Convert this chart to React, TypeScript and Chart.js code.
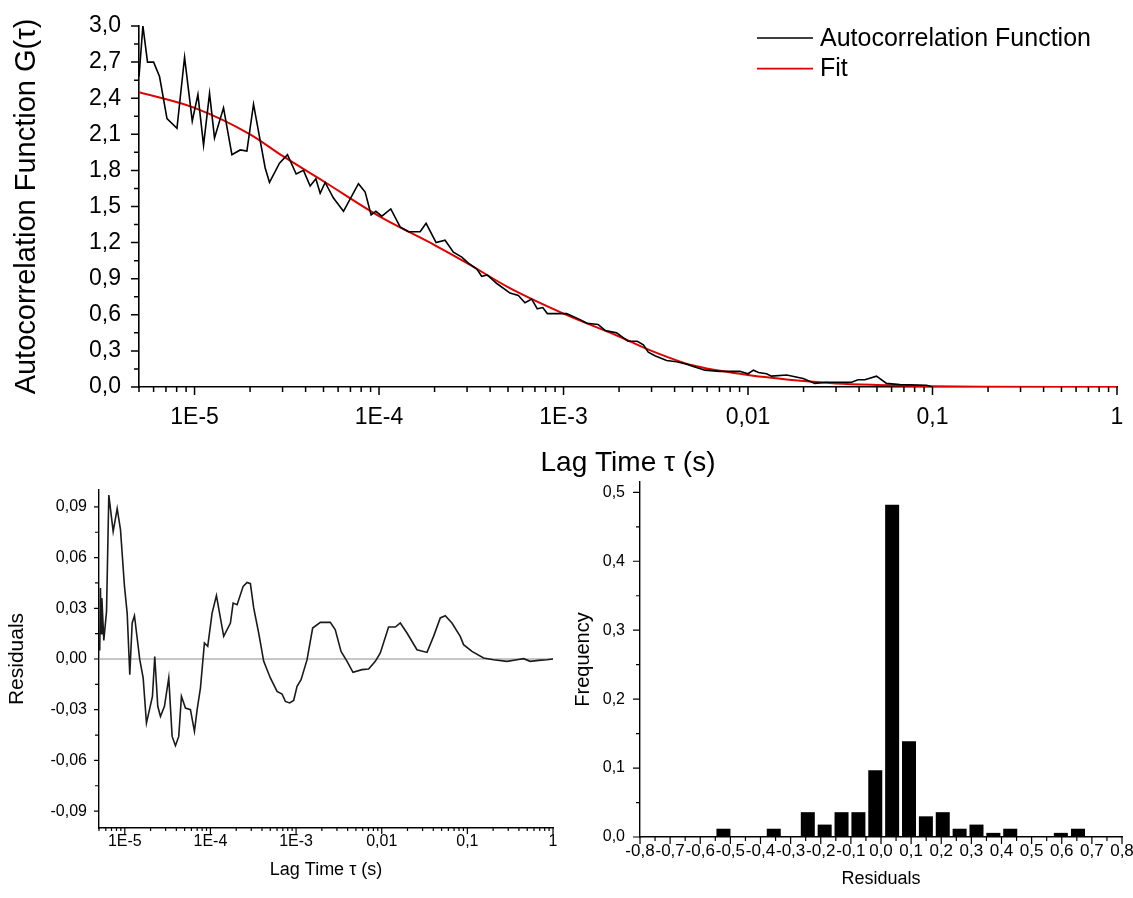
import React, { useEffect, useRef } from "react";
import { Chart, registerables } from "chart.js";

Chart.register(...registerables);

const FONT = "'Liberation Sans', Arial, Helvetica, sans-serif";
const RED = "#e00000";

// ---------- Top chart: autocorrelation data ----------
const acfTau = [
  5.0e-6, 5.25e-6, 5.56e-6, 6.0e-6, 6.46e-6, 7.09e-6, 8.03e-6, 8.83e-6, 9.72e-6, 1.043e-5,
  1.119e-5, 1.206e-5, 1.283e-5, 1.436e-5, 1.594e-5, 1.768e-5, 1.922e-5, 2.088e-5, 2.415e-5, 2.549e-5,
  2.887e-5, 3.19e-5, 3.556e-5, 3.895e-5, 4.233e-5, 4.546e-5, 4.797e-5, 5.105e-5, 5.662e-5, 6.417e-5,
  7.735e-5, 8.41e-5, 9.06e-5, 9.61e-5, 1.036e-4, 1.158e-4, 1.301e-4, 1.443e-4, 1.67e-4, 1.799e-4,
  2.039e-4, 2.28e-4, 2.53e-4, 2.81e-4, 3.05e-4, 3.39e-4, 3.6e-4, 3.87e-4, 4.35e-4, 5.13e-4,
  5.69e-4, 6.18e-4, 6.72e-4, 7.21e-4, 7.72e-4, 8.17e-4, 9.78e-4, 1.04e-3, 1.23e-3, 1.34e-3,
  1.54e-3, 1.68e-3, 1.94e-3, 2.24e-3, 2.51e-3, 2.71e-3, 2.88e-3, 3.13e-3, 3.62e-3, 4.1e-3,
  4.65e-3, 5.05e-3, 5.84e-3, 7.04e-3, 9.04e-3, 1.0e-2, 1.07e-2, 1.14e-2, 1.26e-2, 1.34e-2,
  1.62e-2, 1.99e-2, 2.3e-2, 2.67e-2, 3.64e-2, 3.95e-2, 4.3e-2, 4.97e-2, 5.63e-2, 6.65e-2,
  9.28e-2, 0.1,
];
const acfG = [
  2.58, 3.0, 2.7, 2.7, 2.58, 2.23, 2.15, 2.74, 2.21, 2.43,
  2.01, 2.44, 2.07, 2.32, 1.93, 1.97, 1.96, 2.35, 1.82, 1.7,
  1.86, 1.93, 1.77, 1.8, 1.67, 1.73, 1.61, 1.7, 1.57, 1.46,
  1.69, 1.62, 1.43, 1.46, 1.42, 1.48, 1.33, 1.29, 1.29, 1.36,
  1.2, 1.22, 1.12, 1.08, 1.03, 0.98, 0.92, 0.93, 0.86, 0.78,
  0.76, 0.7, 0.73, 0.65, 0.66, 0.61, 0.61, 0.61, 0.56, 0.53,
  0.52, 0.47, 0.45, 0.38, 0.38, 0.35, 0.29, 0.26, 0.22, 0.21,
  0.19, 0.17, 0.14, 0.13, 0.13, 0.11, 0.14, 0.12, 0.11, 0.09,
  0.1, 0.07, 0.03, 0.04, 0.04, 0.06, 0.06, 0.09, 0.03, 0.02,
  0.015, 0.0,
];
const fitTau = [5e-6, 1e-5, 2e-5, 3e-5, 5e-5, 1e-4, 2e-4, 3e-4, 5e-4, 1e-3, 2e-3, 3e-3, 5e-3, 1e-2, 2e-2, 3e-2, 5e-2, 0.1, 0.2, 0.5, 1];
const fitG = [2.45, 2.32, 2.1, 1.92, 1.71, 1.42, 1.18, 1.03, 0.83, 0.61, 0.42, 0.3, 0.18, 0.1, 0.05, 0.03, 0.017, 0.006, 0.002, 0.0005, 0.0];

const logTicks = [1e-5, 1e-4, 1e-3, 1e-2, 1e-1, 1];
const logTickLabels = ["1E-5", "1E-4", "1E-3", "0,01", "0,1", "1"];
const logMinorSteps = [2, 3, 4, 5, 6, 7, 8, 9];

const topYTicks = [0, 0.3, 0.6, 0.9, 1.2, 1.5, 1.8, 2.1, 2.4, 2.7, 3.0];
const topYLabels = ["0,0", "0,3", "0,6", "0,9", "1,2", "1,5", "1,8", "2,1", "2,4", "2,7", "3,0"];
const topYMinor = [0.15, 0.45, 0.75, 1.05, 1.35, 1.65, 1.95, 2.25, 2.55, 2.85];

// ---------- Bottom-left: residuals ----------
const resTau = [
  5.1e-6, 5.2e-6, 5.3e-6, 5.4e-6, 5.69e-6, 6.12e-6, 6.51e-6, 7.32e-6, 8.15e-6, 8.91e-6,
  9.92e-6, 1.067e-5, 1.144e-5, 1.22e-5, 1.297e-5, 1.496e-5, 1.639e-5, 1.791e-5, 2.104e-5, 2.239e-5,
  2.428e-5, 2.61e-5, 2.905e-5, 3.262e-5, 3.572e-5, 3.904e-5, 4.267e-5, 4.587e-5, 5.108e-5, 5.843e-5,
  6.505e-5, 6.995e-5, 7.643e-5, 8.51e-5, 9.3e-5, 1.046e-4, 1.175e-4, 1.429e-4, 1.712e-4, 1.84e-4,
  2.05e-4, 2.41e-4, 2.68e-4, 2.93e-4, 3.2e-4, 3.66e-4, 4.19e-4, 5.01e-4, 6.0e-4, 6.86e-4,
  7.5e-4, 8.42e-4, 9.37e-4, 1.027e-3, 1.144e-3, 1.344e-3, 1.562e-3, 1.921e-3, 2.51e-3, 2.87e-3,
  3.35e-3, 3.94e-3, 4.62e-3, 5.89e-3, 7.03e-3, 8.42e-3, 9.63e-3, 1.203e-2, 1.441e-2, 1.648e-2,
  1.973e-2, 2.58e-2, 3.38e-2, 4.03e-2, 4.83e-2, 5.52e-2, 6.61e-2, 8.26e-2, 9.03e-2, 0.1132,
  0.1546, 0.2021, 0.29, 0.379, 0.453, 0.542, 0.677, 0.849, 1.0,
];
const resVal = [
  0.005, 0.042, 0.015, 0.036, 0.011, 0.028, 0.097, 0.0755, 0.089, 0.0765,
  0.043, 0.027, -0.0093, 0.0213, 0.0256, -0.0004, -0.0112, -0.0379, -0.0221, 0.0015,
  -0.028, -0.034, -0.028, -0.0112, -0.0458, -0.0513, -0.0458, -0.0221, -0.029, -0.03,
  -0.0428, -0.03, -0.0172, 0.0095, 0.0075, 0.0272, 0.0375, 0.0134, 0.0213, 0.0331,
  0.0321, 0.043, 0.0453, 0.0446, 0.0302, 0.0154, -0.0014, -0.0112, -0.0192, -0.0207,
  -0.0251, -0.026, -0.0245, -0.0162, -0.0122, -0.0004, 0.0183, 0.0217, 0.0217, 0.0173,
  0.0045, -0.0014, -0.0079, -0.0063, -0.0059, -0.0014, 0.0036, 0.0189, 0.0189, 0.0213,
  0.0154, 0.0055, 0.0039, 0.0134, 0.0243, 0.0256, 0.0213, 0.0134, 0.0085, 0.0045,
  0.0006, -0.0004, -0.0014, -0.0004, 0.0002, -0.0014, -0.0008, -0.0004, 0.0,
];
const zeroLineTau = [5e-6, 1];
const zeroLineVal = [0, 0];

const resYTicks = [-0.09, -0.06, -0.03, 0, 0.03, 0.06, 0.09];
const resYLabels = ["-0,09", "-0,06", "-0,03", "0,00", "0,03", "0,06", "0,09"];
const resYMinor = [-0.075, -0.045, -0.015, 0.015, 0.045, 0.075];

// ---------- Bottom-right: histogram of residuals ----------
const histCenters = [-0.523, -0.356, -0.243, -0.187, -0.131, -0.075, -0.019, 0.037, 0.093, 0.149, 0.205, 0.261, 0.317, 0.373, 0.429, 0.597, 0.654];
const histFreq = [0.012, 0.012, 0.036, 0.018, 0.036, 0.036, 0.097, 0.482, 0.139, 0.03, 0.036, 0.012, 0.018, 0.006, 0.012, 0.006, 0.012];

const histXTicks = [-0.8, -0.7, -0.6, -0.5, -0.4, -0.3, -0.2, -0.1, 0, 0.1, 0.2, 0.3, 0.4, 0.5, 0.6, 0.7, 0.8];
const histXLabels = ["-0,8", "-0,7", "-0,6", "-0,5", "-0,4", "-0,3", "-0,2", "-0,1", "0,0", "0,1", "0,2", "0,3", "0,4", "0,5", "0,6", "0,7", "0,8"];
const histXMinor = [-0.75, -0.65, -0.55, -0.45, -0.35, -0.25, -0.15, -0.05, 0.05, 0.15, 0.25, 0.35, 0.45, 0.55, 0.65, 0.75];
const histYTicks = [0, 0.1, 0.2, 0.3, 0.4, 0.5];
const histYLabels = ["0,0", "0,1", "0,2", "0,3", "0,4", "0,5"];
const histYMinor = [0.05, 0.15, 0.25, 0.35, 0.45];

function logMinors(min: number, max: number) {
  const out: number[] = [];
  for (let k = -7; k <= 0; k++) {
    for (const m of logMinorSteps) {
      const v = m * Math.pow(10, k);
      if (v >= min * 0.999 && v <= max * 1.001) out.push(v);
    }
  }
  return out;
}

function tickMarks(spec: any) {
  return {
    id: "tickMarks",
    afterDraw(chart: any) {
      const { ctx, chartArea: a, scales } = chart;
      const xs = scales.x;
      const ys = scales.y;
      ctx.save();
      ctx.strokeStyle = "#000";
      ctx.lineWidth = spec.width;
      ctx.beginPath();
      const addX = (vals: number[], len: number) =>
        vals.forEach((v) => {
          const p = xs.getPixelForValue(v);
          ctx.moveTo(p, a.bottom);
          ctx.lineTo(p, a.bottom + len);
        });
      const addY = (vals: number[], len: number) =>
        vals.forEach((v) => {
          const p = ys.getPixelForValue(v);
          ctx.moveTo(a.left - len, p);
          ctx.lineTo(a.left, p);
        });
      addX(spec.xMajor, spec.xMajorLen);
      addX(spec.xMinor, spec.xMinorLen);
      addY(spec.yMajor, spec.yMajorLen);
      addY(spec.yMinor, spec.yMinorLen);
      ctx.stroke();
      ctx.restore();
    },
  };
}

const lineLegend = {
  id: "lineLegend",
  afterDraw(chart: any) {
    const { ctx } = chart;
    ctx.save();
    ctx.font = `25px ${FONT}`;
    ctx.textBaseline = "middle";
    ctx.textAlign = "left";
    ctx.fillStyle = "#000";
    chart.data.datasets.forEach((ds: any, i: number) => {
      const y = 38 + i * 30.6;
      ctx.strokeStyle = ds.borderColor;
      ctx.lineWidth = 1.6;
      ctx.beginPath();
      ctx.moveTo(757, y);
      ctx.lineTo(813, y);
      ctx.stroke();
      ctx.fillText(ds.label, 820, y + 1);
    });
    ctx.restore();
  },
};

function fixX(h: number) {
  return (s: any) => {
    s.height = h;
    s.paddingLeft = 0;
    s.paddingRight = 0;
  };
}
function fixY(w: number) {
  return (s: any) => {
    s.width = w;
    s.paddingTop = 0;
    s.paddingBottom = 0;
  };
}

const gridOff = { display: true, drawOnChartArea: false, drawTicks: false };

function pts(xs: number[], ys: number[]) {
  return xs.map((x, i) => ({ x, y: ys[i] }));
}

export default function App() {
  const topRef = useRef<HTMLCanvasElement | null>(null);
  const resRef = useRef<HTMLCanvasElement | null>(null);
  const histRef = useRef<HTMLCanvasElement | null>(null);

  useEffect(() => {
    Chart.defaults.font.family = FONT;
    Chart.defaults.color = "#000";

    const topChart = new Chart(topRef.current as HTMLCanvasElement, {
      type: "line",
      data: {
        datasets: [
          {
            label: "Autocorrelation Function",
            data: pts(acfTau, acfG),
            borderColor: "#000",
            borderWidth: 1.6,
            pointRadius: 0,
            tension: 0,
          },
          {
            label: "Fit",
            data: pts(fitTau, fitG),
            borderColor: RED,
            borderWidth: 2,
            pointRadius: 0,
            cubicInterpolationMode: "monotone",
          },
        ],
      },
      options: {
        responsive: false,
        animation: false,
        layout: { padding: { left: 0, right: 16, top: 26, bottom: 0 } },
        plugins: { legend: { display: false }, tooltip: { enabled: false } },
        scales: {
          x: {
            type: "logarithmic",
            min: 5e-6,
            max: 1,
            afterBuildTicks: (s: any) => {
              s.ticks = logTicks.map((v) => ({ value: v }));
            },
            afterFit: fixX(93),
            ticks: {
              autoSkip: false,
              maxRotation: 0,
              minRotation: 0,
              padding: 17,
              color: "#000",
              font: { size: 23 },
              callback: (_v: any, i: number) => logTickLabels[i],
            },
            grid: gridOff,
            border: { display: true, color: "#000", width: 1.6 },
            title: {
              display: true,
              text: "Lag Time τ (s)",
              color: "#000",
              font: { size: 28 },
              padding: { top: 0, bottom: 0 },
            },
          },
          y: {
            type: "linear",
            min: 0,
            max: 3.0,
            afterBuildTicks: (s: any) => {
              s.ticks = topYTicks.map((v) => ({ value: v }));
            },
            afterFit: fixY(139),
            ticks: {
              padding: 18,
              color: "#000",
              font: { size: 23 },
              callback: (_v: any, i: number) => topYLabels[i],
            },
            grid: gridOff,
            border: { display: true, color: "#000", width: 1.6 },
            title: {
              display: true,
              text: "Autocorrelation Function G(τ)",
              color: "#000",
              font: { size: 29 },
              padding: { top: 10, bottom: 0 },
            },
          },
        },
      },
      plugins: [
        tickMarks({
          width: 1.5,
          xMajor: logTicks,
          xMinor: logMinors(5e-6, 1),
          xMajorLen: 8,
          xMinorLen: 5,
          yMajor: topYTicks,
          yMinor: topYMinor,
          yMajorLen: 8,
          yMinorLen: 5,
        }),
        lineLegend,
      ],
    } as any);

    const resChart = new Chart(resRef.current as HTMLCanvasElement, {
      type: "line",
      data: {
        datasets: [
          {
            label: "Residuals",
            data: pts(resTau, resVal),
            borderColor: "#1a1a1a",
            borderWidth: 1.6,
            pointRadius: 0,
            tension: 0,
          },
          {
            label: "zero",
            data: pts(zeroLineTau, zeroLineVal),
            borderColor: "#8c8c8c",
            borderWidth: 1,
            pointRadius: 0,
          },
        ],
      },
      options: {
        responsive: false,
        animation: false,
        layout: { padding: { left: 0, right: 7, top: 10, bottom: 0 } },
        plugins: { legend: { display: false }, tooltip: { enabled: false } },
        scales: {
          x: {
            type: "logarithmic",
            min: 5e-6,
            max: 1,
            afterBuildTicks: (s: any) => {
              s.ticks = logTicks.map((v) => ({ value: v }));
            },
            afterFit: fixX(70),
            ticks: {
              autoSkip: false,
              maxRotation: 0,
              minRotation: 0,
              padding: 4,
              color: "#000",
              font: { size: 16 },
              callback: (_v: any, i: number) => logTickLabels[i],
            },
            grid: gridOff,
            border: { display: true, color: "#000", width: 1.4 },
            title: {
              display: true,
              text: "Lag Time τ (s)",
              color: "#000",
              font: { size: 18 },
              padding: { top: 0, bottom: 17 },
            },
          },
          y: {
            type: "linear",
            min: -0.1,
            max: 0.1,
            afterBuildTicks: (s: any) => {
              s.ticks = resYTicks.map((v) => ({ value: v }));
            },
            afterFit: fixY(99),
            ticks: {
              padding: 12,
              color: "#000",
              font: { size: 16 },
              callback: (_v: any, i: number) => resYLabels[i],
            },
            grid: gridOff,
            border: { display: true, color: "#000", width: 1.4 },
            title: {
              display: true,
              text: "Residuals",
              color: "#000",
              font: { size: 21 },
              padding: { top: 5, bottom: 0 },
            },
          },
        },
      },
      plugins: [
        tickMarks({
          width: 1.2,
          xMajor: logTicks,
          xMinor: logMinors(5e-6, 1),
          xMajorLen: 6,
          xMinorLen: 3,
          yMajor: resYTicks,
          yMinor: resYMinor,
          yMajorLen: 5,
          yMinorLen: 4,
        }),
      ],
    } as any);

    const histChart = new Chart(histRef.current as HTMLCanvasElement, {
      type: "bar",
      data: {
        datasets: [
          {
            label: "Frequency",
            data: pts(histCenters, histFreq),
            backgroundColor: "#000",
            borderWidth: 0,
            barPercentage: 0.83,
            categoryPercentage: 1.0,
          },
        ],
      },
      options: {
        responsive: false,
        animation: false,
        layout: { padding: { left: 0, right: 11, top: 2, bottom: 0 } },
        plugins: { legend: { display: false }, tooltip: { enabled: false } },
        scales: {
          x: {
            type: "linear",
            min: -0.8,
            max: 0.8,
            offset: false,
            afterBuildTicks: (s: any) => {
              s.ticks = histXTicks.map((v) => ({ value: v }));
            },
            afterFit: fixX(61),
            ticks: {
              autoSkip: false,
              maxRotation: 0,
              minRotation: 0,
              padding: 4,
              color: "#000",
              font: { size: 17 },
              callback: (_v: any, i: number) => histXLabels[i],
            },
            grid: { ...gridOff, offset: false },
            border: { display: true, color: "#000", width: 1.4 },
            title: {
              display: true,
              text: "Residuals",
              color: "#000",
              font: { size: 18 },
              padding: { top: 0, bottom: 8 },
            },
          },
          y: {
            type: "linear",
            min: 0,
            max: 0.515,
            afterBuildTicks: (s: any) => {
              s.ticks = histYTicks.map((v) => ({ value: v }));
            },
            afterFit: fixY(80),
            ticks: {
              padding: 15,
              color: "#000",
              font: { size: 16 },
              callback: (_v: any, i: number) => histYLabels[i],
            },
            grid: gridOff,
            border: { display: true, color: "#000", width: 1.4 },
            title: {
              display: true,
              text: "Frequency",
              color: "#000",
              font: { size: 20 },
              padding: { top: 11, bottom: 0 },
            },
          },
        },
      },
      plugins: [
        tickMarks({
          width: 1.2,
          xMajor: histXTicks,
          xMinor: histXMinor,
          xMajorLen: 7,
          xMinorLen: 4,
          yMajor: histYTicks,
          yMinor: histYMinor,
          yMajorLen: 7,
          yMinorLen: 4,
        }),
      ],
    } as any);

    return () => {
      topChart.destroy();
      resChart.destroy();
      histChart.destroy();
    };
  }, []);

  return (
    <div style={{ position: "absolute", left: 0, top: 0, width: 1133, height: 898, background: "#fff", overflow: "hidden" }}>
      <canvas ref={topRef} width={1133} height={480} style={{ position: "absolute", left: 0, top: 0 }} />
      <canvas ref={resRef} width={560} height={418} style={{ position: "absolute", left: 0, top: 480 }} />
      <canvas ref={histRef} width={573} height={418} style={{ position: "absolute", left: 560, top: 480 }} />
    </div>
  );
}
